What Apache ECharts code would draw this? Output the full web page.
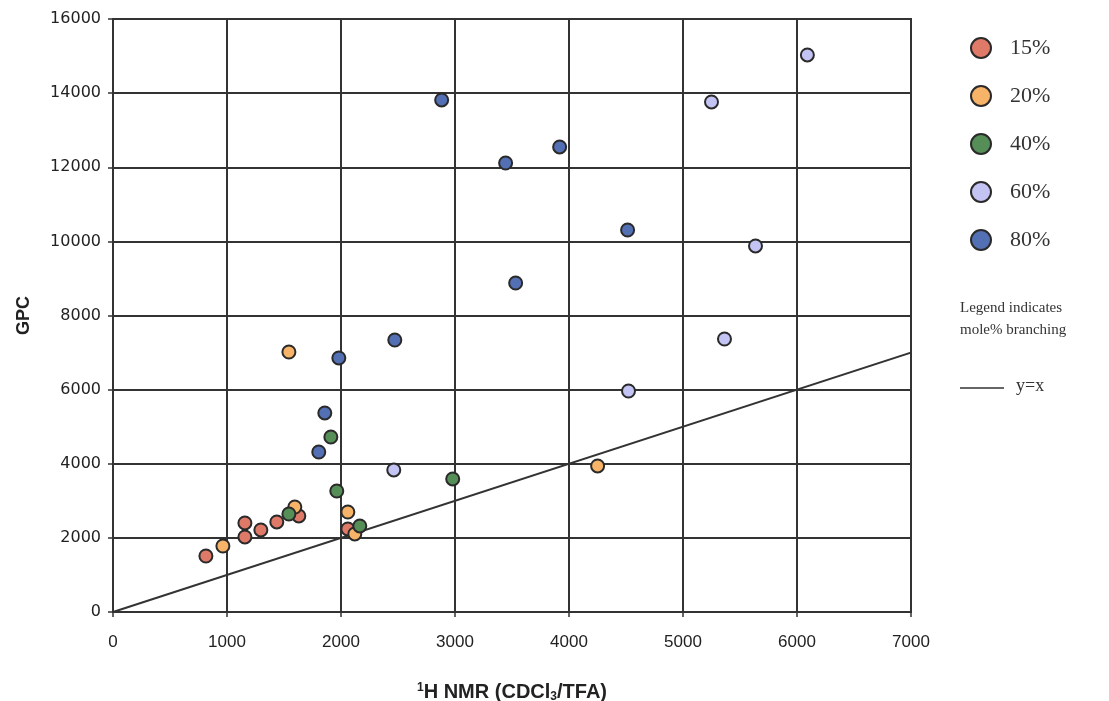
<!DOCTYPE html>
<html><head><meta charset="utf-8">
<script src="https://cdn.jsdelivr.net/npm/echarts@6/dist/echarts.min.js"></script>
<style>html,body{margin:0;padding:0;background:#fff}#c{width:1109px;height:701px}</style>
</head><body><div id="c"></div>
<script>
const seriesNames = ['15%', '20%', '40%', '60%', '80%'];
const seriesColors = ['#e07a68', '#f7b468', '#568e58', '#c4c4f4', '#5470b4'];
const data15 = [[815,1511],[1157,2402],[1157,2024],[1297,2213],[1437,2429],[1630,2591],[2060,2240]];
const data20 = [[964,1781],[1595,2833],[2060,2698],[2121,2105],[1543,7015],[4251,3940]];
const data40 = [[1543,2644],[2165,2321],[1963,3265],[1911,4722],[2980,3589]];
const data60 = [[2463,3832],[4522,5963],[5364,7366],[5636,9876],[5250,13761],[6091,15030]];
const data80 = [[1858,5370],[1805,4317],[1981,6854],[2472,7339],[3532,8877],[2883,13815],[3444,12115],[3918,12547],[4514,10307]];
const lineData = [[0,0],[7060,7060]];
const xTicks = [0,1000,2000,3000,4000,5000,6000,7000];
const yTicks = [0,2000,4000,6000,8000,10000,12000,14000,16000];

const allData = [data15, data20, data40, data60, data80];
const chart = echarts.init(document.getElementById('c'));
const series = allData.map((d, i) => ({
  name: seriesNames[i], type: 'scatter', data: d, symbolSize: 13,
  itemStyle: { color: seriesColors[i], borderColor: '#2a2a2a', borderWidth: 2, opacity: 1 },
  z: 5
}));
series.push({
  name: 'y=x', type: 'line', data: lineData, showSymbol: false, clip: false,
  lineStyle: { color: '#333', width: 2 }, z: 4, silent: true
});
chart.setOption({
  animation: false,
  grid: { left: 113, right: 198, top: 19, bottom: 89, show: true, borderColor: '#333', borderWidth: 2, outerBoundsMode: 'none', containLabel: false },
  xAxis: {
    type: 'value', min: xTicks[0], max: xTicks[xTicks.length-1], interval: 1000,
    name: '{sup|1}H NMR (CDCl{sub|3}/TFA)', nameLocation: 'middle', nameGap: 70,
    nameTextStyle: { fontFamily: 'Liberation Sans', fontWeight: 'bold', fontSize: 20, color: '#222',
      rich: { sup: { fontSize: 12, fontWeight: 'bold', verticalAlign: 'top', padding: [0,0,9,0], fontFamily: 'Liberation Sans', color: '#222' },
              sub: { fontSize: 12, fontWeight: 'bold', verticalAlign: 'bottom', padding: [9,0,0,0], fontFamily: 'Liberation Sans', color: '#222' } } },
    axisLine: { show: true, lineStyle: { color: '#333', width: 2 } },
    axisTick: { show: true, length: 5, lineStyle: { color: '#333', width: 1.5 } },
    axisLabel: { fontFamily: 'Liberation Sans', fontSize: 17, color: '#222', margin: 22, formatter: v => String(v) },
    splitLine: { show: true, lineStyle: { color: '#333', width: 2 } }
  },
  yAxis: {
    type: 'value', min: yTicks[0], max: yTicks[yTicks.length-1], interval: 2000,
    name: 'GPC', nameLocation: 'middle', nameGap: 80,
    nameTextStyle: { fontFamily: 'Liberation Sans', fontWeight: 'bold', fontSize: 18, color: '#222' },
    axisLine: { show: true, lineStyle: { color: '#333', width: 2 } },
    axisTick: { show: true, length: 5, lineStyle: { color: '#333', width: 1.5 } },
    axisLabel: { fontFamily: 'DejaVu Sans', fontSize: 16, color: '#222', margin: 12, formatter: v => String(v) },
    splitLine: { show: true, lineStyle: { color: '#333', width: 2 } }
  },
  legend: {
    data: seriesNames, orient: 'vertical', left: 965, top: 32, itemWidth: 20, itemHeight: 20,
    itemGap: 26, icon: 'circle',
    textStyle: { fontFamily: 'Liberation Serif', fontSize: 22, color: '#333', padding: [0,0,0,14] }
  },
  graphic: [
    { type: 'text', left: 960, top: 297, style: { text: 'Legend indicates\nmole% branching', font: '15px "Liberation Serif"', fill: '#333', lineHeight: 22 } },
    { type: 'line', shape: { x1: 960, y1: 388, x2: 1004, y2: 388 }, style: { stroke: '#333', lineWidth: 1.5 } },
    { type: 'text', left: 1016, top: 377, style: { text: 'y=x', font: '18px "Liberation Serif"', fill: '#333' } }
  ],
  series: series
});
</script></body></html>
